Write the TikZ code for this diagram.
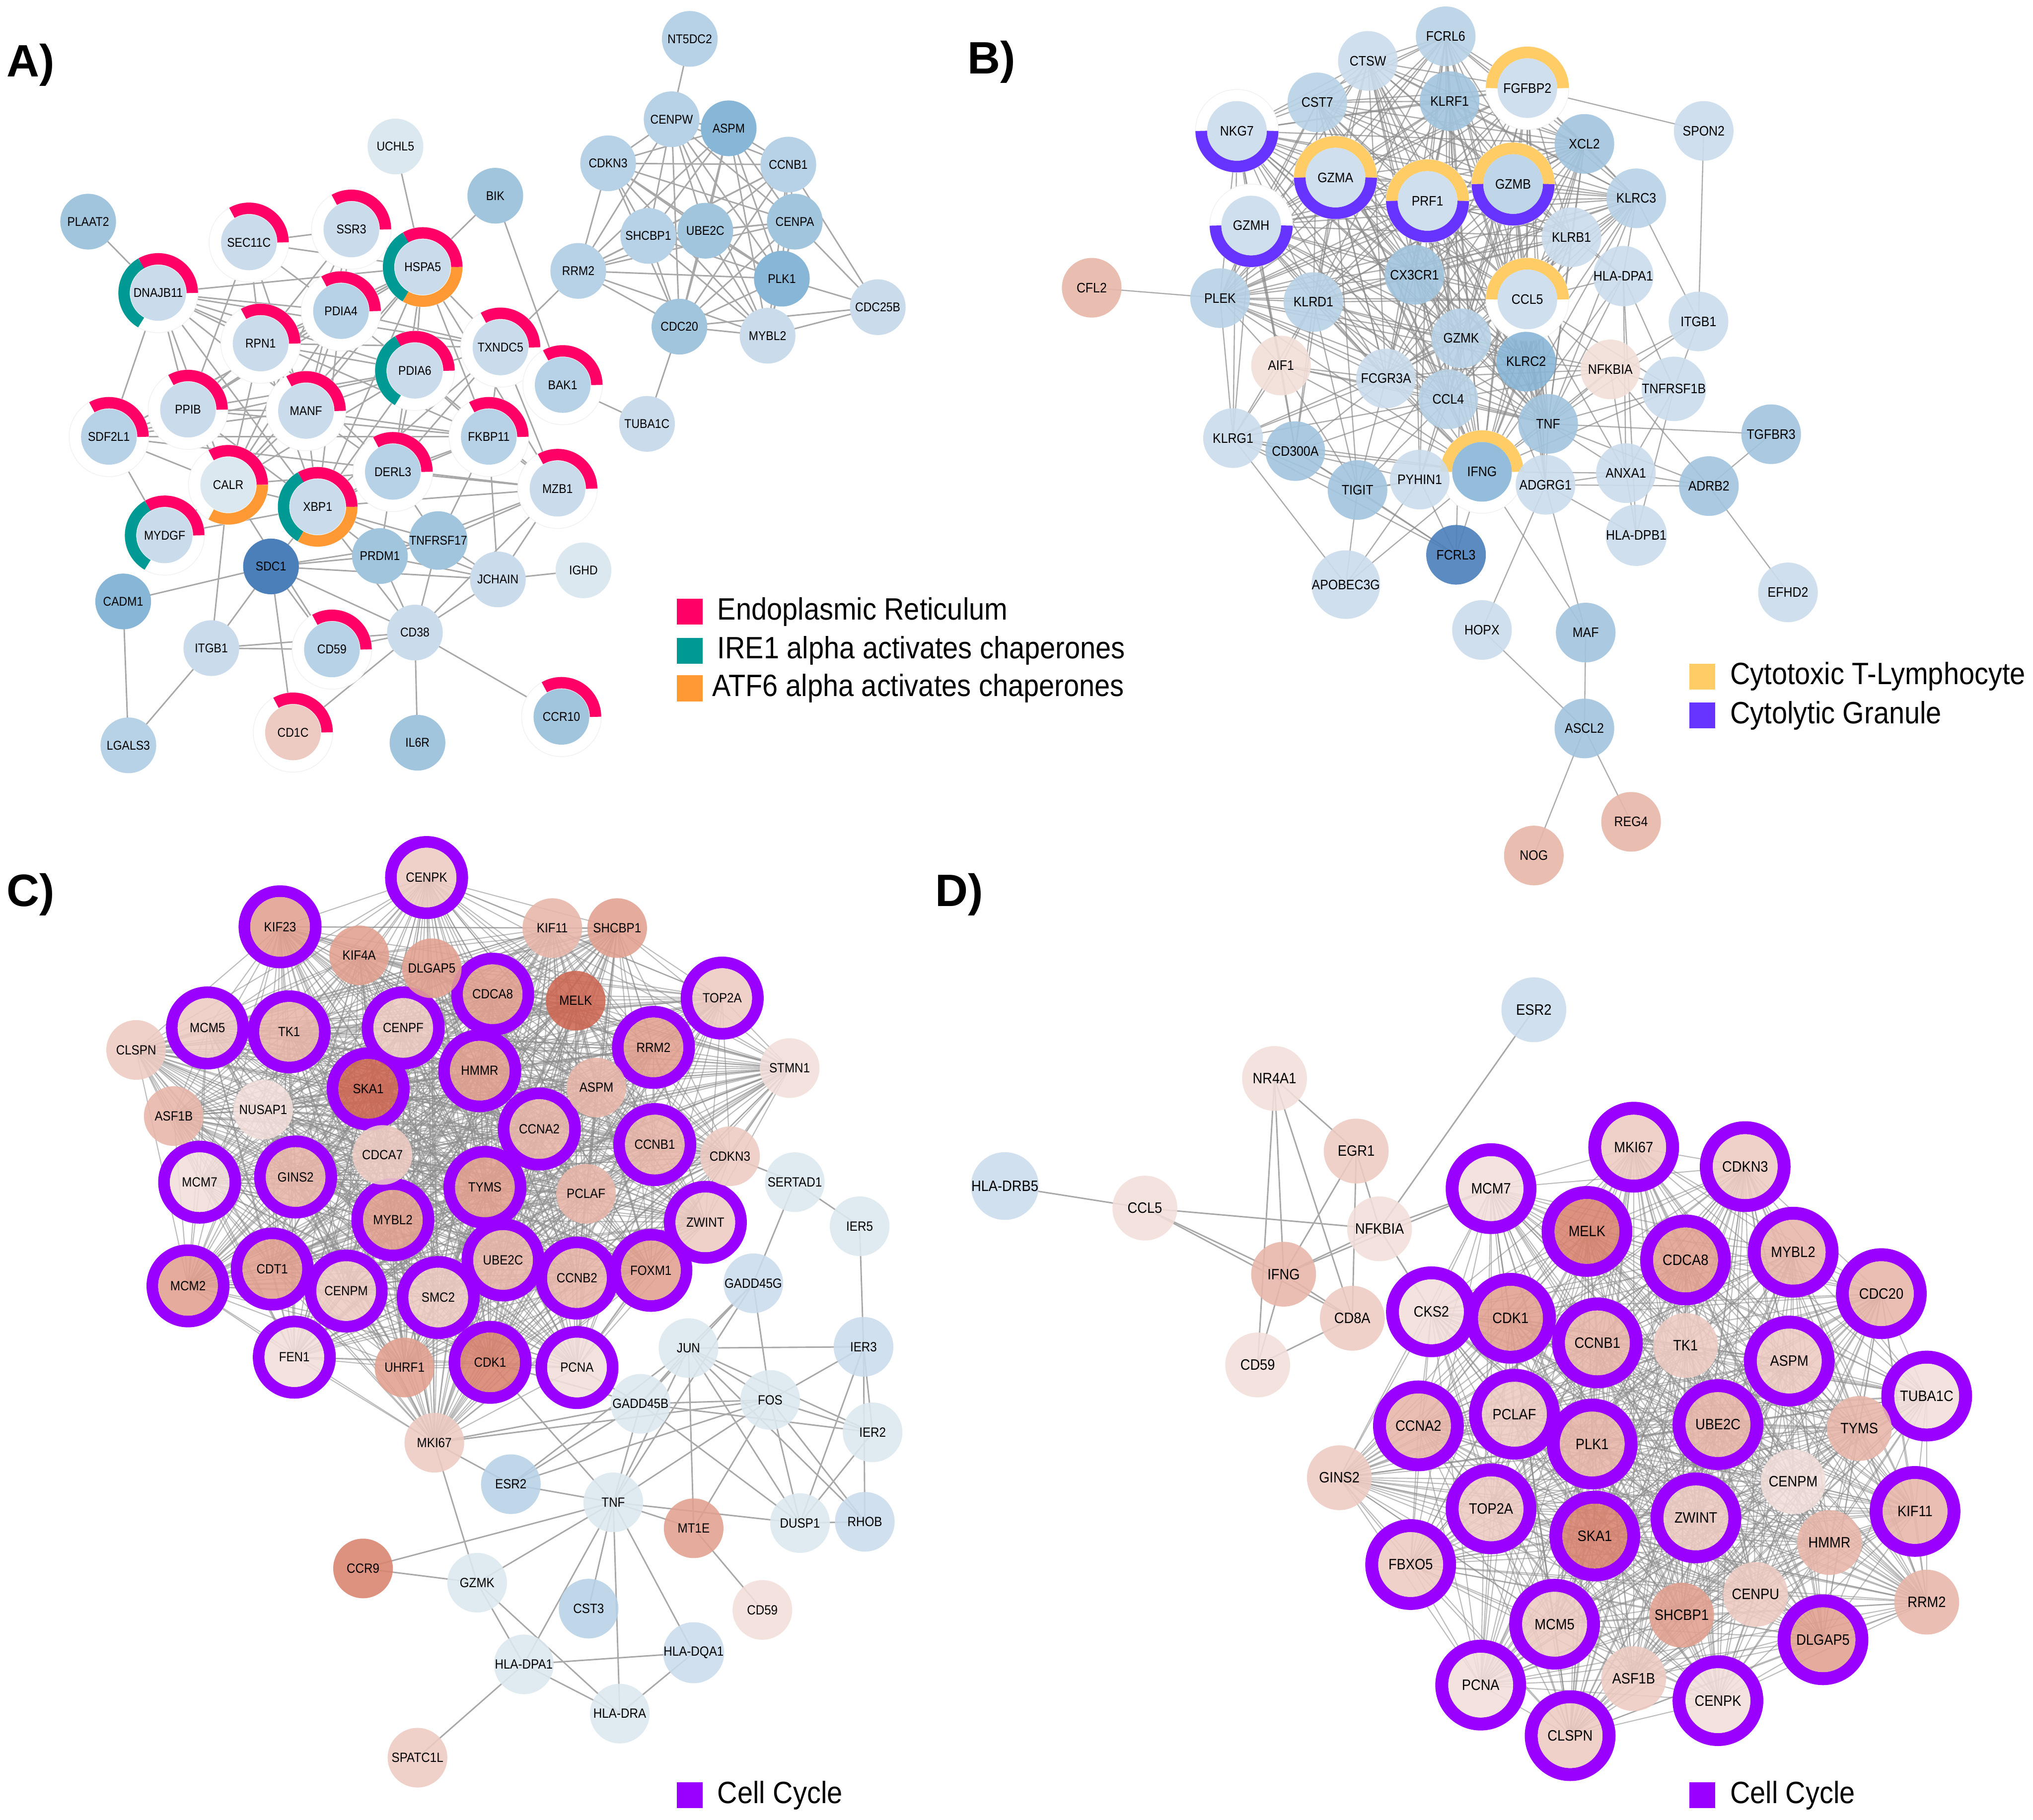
\documentclass[tikz,border=0pt]{standalone}
\usepackage{fontspec}
\setmainfont{Liberation Sans}[FakeStretch=0.9]
\newfontfamily\panelfont{Liberation Sans}
\usepackage{tikz}
\usetikzlibrary{positioning}

\definecolor{b0}{HTML}{DCE8F0}
\definecolor{b1}{HTML}{CADCEC}
\definecolor{b2}{HTML}{B7D2E6}
\definecolor{b3}{HTML}{A2C5DE}
\definecolor{b4}{HTML}{88B6D6}
\definecolor{b5}{HTML}{4A7FBA}
\definecolor{r0}{HTML}{F2DED9}
\definecolor{r1}{HTML}{EDCBC3}
\definecolor{r2}{HTML}{E8B6A9}
\definecolor{r3}{HTML}{E2A190}
\definecolor{r4}{HTML}{D9836F}
\definecolor{r5}{HTML}{CE6753}
\definecolor{erc}{HTML}{FF0066}
\definecolor{irec}{HTML}{009994}
\definecolor{atfc}{HTML}{FF9933}
\definecolor{ctlc}{HTML}{FFCC66}
\definecolor{cgc}{HTML}{6633FF}
\definecolor{ccc}{HTML}{9900FF}

\pgfdeclarelayer{edges}
\pgfdeclarelayer{rings}
\pgfsetlayers{edges,rings,main}

\tikzset{
    gene/.style={circle, inner sep=0pt, text=black, text opacity=1},
    gA/.style={gene, minimum size=43pt, font=\fontsize{9.8}{10}\selectfont},
    gB/.style={gene, minimum size=46pt, fill opacity=0.9, font=\fontsize{10.6}{11}\selectfont},
    gC/.style={gene, minimum size=46pt, fill opacity=0.88, font=\fontsize{10.3}{11}\selectfont},
    gD/.style={gene, minimum size=50pt, fill opacity=0.88, font=\fontsize{11.6}{12}\selectfont},
    link/.style={draw=black!34, line width=1.1pt},
    blink/.style={draw=black!45, line width=0.9pt, draw opacity=0.72},
    mesh/.style={draw=black!45, line width=0.8pt, draw opacity=0.58},
    panel/.style={anchor=west, inner sep=0pt, font=\panelfont\fontsize{35}{37}\selectfont\bfseries},
    legbox/.style={minimum size=20pt, inner sep=0pt},
    legtext/.style={anchor=west, inner sep=0pt, font=\fontsize{23.8}{26}\selectfont}
}

% ring pieces round a gene node
\newcommand{\ringseg}[6]{\draw[#6, line width=#3pt] ([shift={(#4:#2)}]#1.center) arc[start angle=#4, end angle=#5, radius=#2];}
\newcommand{\ringbase}[2]{\fill[white] (#1.center) circle (#2); \draw[black!6, line width=0.5pt] (#1.center) circle (#2);}
\newcommand{\ringER}[1]{\ringseg{#1}{26.3}{8.8}{0}{120}{erc}}
\newcommand{\ringIRE}[1]{\ringseg{#1}{26.3}{8.8}{120}{240}{irec}}
\newcommand{\ringATF}[1]{\ringseg{#1}{26.3}{8.8}{240}{360}{atfc}}
\newcommand{\ringCTL}[1]{\ringseg{#1}{27.5}{9}{0}{180}{ctlc}}
\newcommand{\ringGRAN}[1]{\ringseg{#1}{27.5}{9}{180}{360}{cgc}}
\newcommand{\ringCC}[1]{\draw[ccc, line width=9pt] (#1.center) circle (27.5);}
\newcommand{\ringCD}[1]{\draw[ccc, line width=10pt] (#1.center) circle (30);}
% every pair of a list
\newcommand{\meshall}[2]{\foreach \u [count=\i] in #1 {\foreach \v [count=\j] in #1 {\ifnum\j>\i\relax \draw[#2] (\u.center) -- (\v.center);\fi}}}

\def\acore{aCENPW,aASPM,aCDKN3,aCCNB1,aSHCBP1,aUBE2C,aCENPA,aRRM2,aPLK1,aCDC20,aMYBL2}
\def\bcore{bNKG7,bGZMA,bPRF1,bGZMB,bGZMH,bCST7,bCTSW,bKLRF1,bFGFBP2,bCX3CR1,bKLRD1,bCCL5,bGZMK,bFCGR3A,bCCL4,bKLRC2,bTNF,bIFNG,bKLRB1,bXCL2,bFCRL6,bKLRC3,bPLEK}
\def\ccore{cCENPK,cKIF23,cKIF11,cSHCBP1,cKIF4A,cDLGAP5,cCDCA8,cMELK,cTOP2A,cMCM5,cTK1,cCENPF,cRRM2,cCLSPN,cHMMR,cSTMN1,cSKA1,cASPM,cNUSAP1,cASF1B,cCCNA2,cCCNB1,cCDKN3,cCDCA7,cGINS2,cTYMS,cPCLAF,cMCM7,cMYBL2,cZWINT,cCDT1,cUBE2C,cCCNB2,cFOXM1,cMCM2,cCENPM,cSMC2,cFEN1,cUHRF1,cCDK1,cPCNA,cMKI67}
\def\dcore{dMKI67,dCDKN3,dMCM7,dMELK,dCDCA8,dMYBL2,dCDC20,dCKS2,dCDK1,dCCNB1,dTK1,dASPM,dTUBA1C,dPCLAF,dCCNA2,dUBE2C,dPLK1,dCENPM,dTYMS,dGINS2,dTOP2A,dZWINT,dSKA1,dKIF11,dHMMR,dFBXO5,dCENPU,dMCM5,dSHCBP1,dDLGAP5,dRRM2,dPCNA,dASF1B,dCENPK,dCLSPN}

\begin{document}
\begin{tikzpicture}[x=1pt, y=1pt]
    \useasboundingbox (0,0) rectangle (1568,-1404);

    % A)
    \node[panel] (labA) at (5,-50) {A)};
    \node[gA, fill=b3] (aPLAAT2) at (68,-171) {PLAAT2};
    \node[gA, fill=b0] (aUCHL5) at (305,-113) {UCHL5};
    \node[gA, fill=b3] (aBIK) at (382,-151) {BIK};
    \node[gA, fill=b1] (aSEC11C) at (192,-187) {SEC11C};
    \node[gA, fill=b1] (aSSR3) at (271,-177) {SSR3};
    \node[gA, fill=b1] (aHSPA5) at (326,-206) {HSPA5};
    \node[gA, fill=b1] (aDNAJB11) at (122,-226) {DNAJB11};
    \node[gA, fill=b2] (aPDIA4) at (263,-240) {PDIA4};
    \node[gA, fill=b1] (aRPN1) at (201,-265) {RPN1};
    \node[gA, fill=b1] (aTXNDC5) at (386,-268) {TXNDC5};
    \node[gA, fill=b1] (aPDIA6) at (320,-286) {PDIA6};
    \node[gA, fill=b2] (aBAK1) at (434,-297) {BAK1};
    \node[gA, fill=b1] (aPPIB) at (145,-316) {PPIB};
    \node[gA, fill=b1] (aMANF) at (236,-317) {MANF};
    \node[gA, fill=b2] (aSDF2L1) at (84,-337) {SDF2L1};
    \node[gA, fill=b2] (aFKBP11) at (377,-337) {FKBP11};
    \node[gA, fill=b2] (aDERL3) at (303,-364) {DERL3};
    \node[gA, fill=b1] (aMZB1) at (430,-377) {MZB1};
    \node[gA, fill=b0] (aCALR) at (176,-374) {CALR};
    \node[gA, fill=b1] (aXBP1) at (245,-391) {XBP1};
    \node[gA, fill=b1] (aMYDGF) at (127,-413) {MYDGF};
    \node[gA, fill=b5] (aSDC1) at (209,-437) {SDC1};
    \node[gA, fill=b3] (aPRDM1) at (293,-429) {PRDM1};
    \node[gA, fill=b3] (aTNFRSF17) at (338,-417) {TNFRSF17};
    \node[gA, fill=b1] (aJCHAIN) at (384,-447) {JCHAIN};
    \node[gA, fill=b0] (aIGHD) at (450,-440) {IGHD};
    \node[gA, fill=b4] (aCADM1) at (95,-464) {CADM1};
    \node[gA, fill=b1] (aITGB1) at (163,-500) {ITGB1};
    \node[gA, fill=b2] (aCD59) at (256,-501) {CD59};
    \node[gA, fill=b1] (aCD38) at (320,-488) {CD38};
    \node[gA, fill=b3] (aCCR10) at (433,-553) {CCR10};
    \node[gA, fill=r1] (aCD1C) at (226,-565) {CD1C};
    \node[gA, fill=b2] (aLGALS3) at (99,-575) {LGALS3};
    \node[gA, fill=b3] (aIL6R) at (322,-573) {IL6R};
    \node[gA, fill=b2] (aNT5DC2) at (532,-30) {NT5DC2};
    \node[gA, fill=b2] (aCENPW) at (518,-92) {CENPW};
    \node[gA, fill=b4] (aASPM) at (562,-99) {ASPM};
    \node[gA, fill=b2] (aCDKN3) at (469,-126) {CDKN3};
    \node[gA, fill=b2] (aCCNB1) at (608,-127) {CCNB1};
    \node[gA, fill=b2] (aSHCBP1) at (500,-182) {SHCBP1};
    \node[gA, fill=b3] (aUBE2C) at (544,-178) {UBE2C};
    \node[gA, fill=b3] (aCENPA) at (613,-171) {CENPA};
    \node[gA, fill=b2] (aRRM2) at (446,-209) {RRM2};
    \node[gA, fill=b4] (aPLK1) at (603,-215) {PLK1};
    \node[gA, fill=b3] (aCDC20) at (524,-252) {CDC20};
    \node[gA, fill=b1] (aMYBL2) at (592,-259) {MYBL2};
    \node[gA, fill=b1] (aCDC25B) at (677,-237) {CDC25B};
    \node[gA, fill=b1] (aTUBA1C) at (499,-327) {TUBA1C};
    \node[legbox, fill=erc] (legER) at (532,-472) {};
    \node[legtext, right=11pt of legER] (legERt) {Endoplasmic Reticulum};
    \node[legbox, fill=irec] (legIRE) at (532,-502) {};
    \node[legtext, right=11pt of legIRE] (legIREt) {IRE1 alpha activates chaperones};
    \node[legbox, fill=atfc] (legATF) at (532,-531) {};
    \node[legtext, right=7pt of legATF] (legATFt) {ATF6 alpha activates chaperones};

    % B)
    \node[panel] (labB) at (746,-48) {B)};
    \node[gB, fill=b2] (bFCRL6) at (1115,-28) {FCRL6};
    \node[gB, fill=b1] (bCTSW) at (1055,-47) {CTSW};
    \node[gB, fill=b1] (bFGFBP2) at (1178,-68) {FGFBP2};
    \node[gB, fill=b2] (bCST7) at (1016,-79) {CST7};
    \node[gB, fill=b3] (bKLRF1) at (1118,-78) {KLRF1};
    \node[gB, fill=b1] (bSPON2) at (1314,-101) {SPON2};
    \node[gB, fill=b1] (bNKG7) at (954,-101) {NKG7};
    \node[gB, fill=b3] (bXCL2) at (1222,-111) {XCL2};
    \node[gB, fill=b1] (bGZMA) at (1030,-137) {GZMA};
    \node[gB, fill=b1] (bPRF1) at (1101,-155) {PRF1};
    \node[gB, fill=b2] (bGZMB) at (1167,-142) {GZMB};
    \node[gB, fill=b2] (bKLRC3) at (1262,-153) {KLRC3};
    \node[gB, fill=b1] (bGZMH) at (965,-174) {GZMH};
    \node[gB, fill=b1] (bKLRB1) at (1212,-183) {KLRB1};
    \node[gB, fill=r2] (bCFL2) at (842,-222) {CFL2};
    \node[gB, fill=b3] (bCX3CR1) at (1091,-212) {CX3CR1};
    \node[gB, fill=b2] (bPLEK) at (941,-230) {PLEK};
    \node[gB, fill=b2] (bKLRD1) at (1013,-233) {KLRD1};
    \node[gB, fill=b1] (bCCL5) at (1178,-231) {CCL5};
    \node[gB, fill=b1] (bHLADPA1) at (1252,-213) {HLA-DPA1};
    \node[gB, fill=b1] (bITGB1) at (1310,-248) {ITGB1};
    \node[gB, fill=b2] (bGZMK) at (1127,-261) {GZMK};
    \node[gB, fill=r0] (bAIF1) at (988,-282) {AIF1};
    \node[gB, fill=b1] (bFCGR3A) at (1069,-292) {FCGR3A};
    \node[gB, fill=b4] (bKLRC2) at (1177,-279) {KLRC2};
    \node[gB, fill=r0] (bNFKBIA) at (1242,-285) {NFKBIA};
    \node[gB, fill=b1] (bTNFRSF1B) at (1291,-300) {TNFRSF1B};
    \node[gB, fill=b2] (bCCL4) at (1117,-308) {CCL4};
    \node[gB, fill=b3] (bTGFBR3) at (1366,-335) {TGFBR3};
    \node[gB, fill=b1] (bKLRG1) at (951,-338) {KLRG1};
    \node[gB, fill=b3] (bTNF) at (1194,-327) {TNF};
    \node[gB, fill=b3] (bCD300A) at (999,-348) {CD300A};
    \node[gB, fill=b1] (bPYHIN1) at (1095,-370) {PYHIN1};
    \node[gB, fill=b4] (bIFNG) at (1143,-364) {IFNG};
    \node[gB, fill=b3] (bTIGIT) at (1047,-378) {TIGIT};
    \node[gB, fill=b1] (bADGRG1) at (1192,-374) {ADGRG1};
    \node[gB, fill=b1] (bANXA1) at (1254,-365) {ANXA1};
    \node[gB, fill=b3] (bADRB2) at (1318,-375) {ADRB2};
    \node[gB, fill=b1] (bHLADPB1) at (1262,-413) {HLA-DPB1};
    \node[gB, fill=b1] (bAPOBEC3G) at (1038,-451) {APOBEC3G};
    \node[gB, fill=b5] (bFCRL3) at (1123,-428) {FCRL3};
    \node[gB, fill=b1] (bEFHD2) at (1379,-457) {EFHD2};
    \node[gB, fill=b1] (bHOPX) at (1143,-486) {HOPX};
    \node[gB, fill=b3] (bMAF) at (1223,-488) {MAF};
    \node[gB, fill=b3] (bASCL2) at (1222,-562) {ASCL2};
    \node[gB, fill=r2] (bREG4) at (1258,-634) {REG4};
    \node[gB, fill=r2] (bNOG) at (1183,-660) {NOG};
    \node[legbox, fill=ctlc] (legCTL) at (1313,-522) {};
    \node[legtext, right=11pt of legCTL] (legCTLt) {Cytotoxic T-Lymphocyte};
    \node[legbox, fill=cgc] (legGRAN) at (1313,-552) {};
    \node[legtext, right=11pt of legGRAN] (legGRANt) {Cytolytic Granule};

    % C)
    \node[panel] (labC) at (5,-690) {C)};
    \node[gC, fill=r1] (cCENPK) at (329,-677) {CENPK};
    \node[gC, fill=r3] (cKIF23) at (216,-715) {KIF23};
    \node[gC, fill=r2] (cKIF11) at (426,-716) {KIF11};
    \node[gC, fill=r3] (cSHCBP1) at (476,-716) {SHCBP1};
    \node[gC, fill=r3] (cKIF4A) at (277,-737) {KIF4A};
    \node[gC, fill=r3] (cDLGAP5) at (333,-747) {DLGAP5};
    \node[gC, fill=r3] (cCDCA8) at (380,-767) {CDCA8};
    \node[gC, fill=r5] (cMELK) at (444,-772) {MELK};
    \node[gC, fill=r1] (cTOP2A) at (557,-770) {TOP2A};
    \node[gC, fill=r1] (cMCM5) at (160,-793) {MCM5};
    \node[gC, fill=r2] (cTK1) at (223,-796) {TK1};
    \node[gC, fill=r1] (cCENPF) at (311,-793) {CENPF};
    \node[gC, fill=r3] (cRRM2) at (504,-808) {RRM2};
    \node[gC, fill=r1] (cCLSPN) at (105,-810) {CLSPN};
    \node[gC, fill=r3] (cHMMR) at (370,-826) {HMMR};
    \node[gC, fill=r0] (cSTMN1) at (609,-824) {STMN1};
    \node[gC, fill=r5] (cSKA1) at (284,-840) {SKA1};
    \node[gC, fill=r2] (cASPM) at (460,-839) {ASPM};
    \node[gC, fill=r0] (cNUSAP1) at (203,-856) {NUSAP1};
    \node[gC, fill=r2] (cASF1B) at (134,-861) {ASF1B};
    \node[gC, fill=r2] (cCCNA2) at (416,-871) {CCNA2};
    \node[gC, fill=r2] (cCCNB1) at (505,-883) {CCNB1};
    \node[gC, fill=r1] (cCDKN3) at (563,-892) {CDKN3};
    \node[gC, fill=r1] (cCDCA7) at (295,-891) {CDCA7};
    \node[gC, fill=r2] (cGINS2) at (228,-908) {GINS2};
    \node[gC, fill=r3] (cTYMS) at (374,-916) {TYMS};
    \node[gC, fill=r2] (cPCLAF) at (452,-921) {PCLAF};
    \node[gC, fill=r0] (cMCM7) at (154,-912) {MCM7};
    \node[gC, fill=b0] (cSERTAD1) at (613,-912) {SERTAD1};
    \node[gC, fill=r3] (cMYBL2) at (303,-941) {MYBL2};
    \node[gC, fill=r1] (cZWINT) at (544,-943) {ZWINT};
    \node[gC, fill=b0] (cIER5) at (663,-946) {IER5};
    \node[gC, fill=b1] (cGADD45G) at (581,-990) {GADD45G};
    \node[gC, fill=r3] (cCDT1) at (210,-979) {CDT1};
    \node[gC, fill=r2] (cUBE2C) at (388,-972) {UBE2C};
    \node[gC, fill=r2] (cCCNB2) at (445,-986) {CCNB2};
    \node[gC, fill=r3] (cFOXM1) at (502,-980) {FOXM1};
    \node[gC, fill=r3] (cMCM2) at (145,-992) {MCM2};
    \node[gC, fill=r1] (cCENPM) at (267,-996) {CENPM};
    \node[gC, fill=r1] (cSMC2) at (338,-1001) {SMC2};
    \node[gC, fill=r0] (cFEN1) at (227,-1047) {FEN1};
    \node[gC, fill=r3] (cUHRF1) at (312,-1055) {UHRF1};
    \node[gC, fill=r4] (cCDK1) at (378,-1051) {CDK1};
    \node[gC, fill=r0] (cPCNA) at (445,-1055) {PCNA};
    \node[gC, fill=b0] (cJUN) at (531,-1040) {JUN};
    \node[gC, fill=b1] (cIER3) at (666,-1039) {IER3};
    \node[gC, fill=b0] (cGADD45B) at (494,-1083) {GADD45B};
    \node[gC, fill=b0] (cFOS) at (594,-1080) {FOS};
    \node[gC, fill=b0] (cIER2) at (673,-1105) {IER2};
    \node[gC, fill=r1] (cMKI67) at (335,-1113) {MKI67};
    \node[gC, fill=b2] (cESR2) at (394,-1145) {ESR2};
    \node[gC, fill=b0] (cTNF) at (473,-1159) {TNF};
    \node[gC, fill=b0] (cDUSP1) at (617,-1175) {DUSP1};
    \node[gC, fill=b1] (cRHOB) at (667,-1174) {RHOB};
    \node[gC, fill=r3] (cMT1E) at (535,-1179) {MT1E};
    \node[gC, fill=r4] (cCCR9) at (280,-1210) {CCR9};
    \node[gC, fill=b0] (cGZMK) at (368,-1221) {GZMK};
    \node[gC, fill=b2] (cCST3) at (454,-1241) {CST3};
    \node[gC, fill=r0] (cCD59) at (588,-1242) {CD59};
    \node[gC, fill=b0] (cHLADPA1) at (404,-1284) {HLA-DPA1};
    \node[gC, fill=b1] (cHLADQA1) at (535,-1275) {HLA-DQA1};
    \node[gC, fill=b0] (cHLADRA) at (478,-1322) {HLA-DRA};
    \node[gC, fill=r1] (cSPATC1L) at (322,-1356) {SPATC1L};
    \node[legbox, fill=ccc] (legCC) at (532,-1385) {};
    \node[legtext, right=11pt of legCC] (legCCt) {Cell Cycle};

    % D)
    \node[panel] (labD) at (721,-690) {D)};
    \node[gD, fill=b1] (dESR2) at (1183,-779) {ESR2};
    \node[gD, fill=r0] (dNR4A1) at (983,-832) {NR4A1};
    \node[gD, fill=r1] (dEGR1) at (1046,-888) {EGR1};
    \node[gD, fill=r1] (dMKI67) at (1260,-885) {MKI67};
    \node[gD, fill=r1] (dCDKN3) at (1346,-900) {CDKN3};
    \node[gD, fill=b1] (dHLADRB5) at (775,-915) {HLA-DRB5};
    \node[gD, fill=r0] (dMCM7) at (1150,-917) {MCM7};
    \node[gD, fill=r0] (dCCL5) at (883,-932) {CCL5};
    \node[gD, fill=r0] (dNFKBIA) at (1064,-948) {NFKBIA};
    \node[gD, fill=r4] (dMELK) at (1224,-950) {MELK};
    \node[gD, fill=r3] (dCDCA8) at (1300,-972) {CDCA8};
    \node[gD, fill=r2] (dMYBL2) at (1383,-966) {MYBL2};
    \node[gD, fill=r2] (dIFNG) at (990,-983) {IFNG};
    \node[gD, fill=r2] (dCDC20) at (1451,-998) {CDC20};
    \node[gD, fill=r1] (dCD8A) at (1043,-1017) {CD8A};
    \node[gD, fill=r0] (dCKS2) at (1104,-1012) {CKS2};
    \node[gD, fill=r3] (dCDK1) at (1165,-1017) {CDK1};
    \node[gD, fill=r2] (dCCNB1) at (1232,-1036) {CCNB1};
    \node[gD, fill=r1] (dTK1) at (1300,-1038) {TK1};
    \node[gD, fill=r1] (dASPM) at (1380,-1050) {ASPM};
    \node[gD, fill=r0] (dTUBA1C) at (1486,-1077) {TUBA1C};
    \node[gD, fill=r0] (dCD59) at (970,-1053) {CD59};
    \node[gD, fill=r1] (dPCLAF) at (1168,-1091) {PCLAF};
    \node[gD, fill=r2] (dCCNA2) at (1094,-1100) {CCNA2};
    \node[gD, fill=r2] (dUBE2C) at (1325,-1099) {UBE2C};
    \node[gD, fill=r2] (dPLK1) at (1228,-1114) {PLK1};
    \node[gD, fill=r0] (dCENPM) at (1383,-1143) {CENPM};
    \node[gD, fill=r2] (dTYMS) at (1434,-1102) {TYMS};
    \node[gD, fill=r1] (dGINS2) at (1033,-1140) {GINS2};
    \node[gD, fill=r1] (dTOP2A) at (1150,-1164) {TOP2A};
    \node[gD, fill=r1] (dZWINT) at (1308,-1171) {ZWINT};
    \node[gD, fill=r4] (dSKA1) at (1230,-1185) {SKA1};
    \node[gD, fill=r2] (dKIF11) at (1477,-1166) {KIF11};
    \node[gD, fill=r2] (dHMMR) at (1411,-1190) {HMMR};
    \node[gD, fill=r1] (dFBXO5) at (1088,-1207) {FBXO5};
    \node[gD, fill=r1] (dCENPU) at (1354,-1230) {CENPU};
    \node[gD, fill=r1] (dMCM5) at (1199,-1253) {MCM5};
    \node[gD, fill=r3] (dSHCBP1) at (1297,-1246) {SHCBP1};
    \node[gD, fill=r3] (dDLGAP5) at (1406,-1265) {DLGAP5};
    \node[gD, fill=r2] (dRRM2) at (1486,-1236) {RRM2};
    \node[gD, fill=r0] (dPCNA) at (1142,-1300) {PCNA};
    \node[gD, fill=r1] (dASF1B) at (1260,-1295) {ASF1B};
    \node[gD, fill=r0] (dCENPK) at (1325,-1312) {CENPK};
    \node[gD, fill=r1] (dCLSPN) at (1211,-1339) {CLSPN};
    \node[legbox, fill=ccc] (legCD) at (1313,-1385) {};
    \node[legtext, right=11pt of legCD] (legCDt) {Cell Cycle};

    \begin{pgfonlayer}{rings}
        \foreach \g in {aSEC11C,aSSR3,aHSPA5,aDNAJB11,aPDIA4,aRPN1,aTXNDC5,aPDIA6,aBAK1,aPPIB,aMANF,aSDF2L1,aFKBP11,aDERL3,aMZB1,aCALR,aXBP1,aMYDGF,aCD59,aCCR10,aCD1C}
            {\ringbase{\g}{30.7} \ringER{\g}}
        \foreach \g in {aHSPA5,aDNAJB11,aPDIA6,aXBP1,aMYDGF}
            {\ringIRE{\g}}
        \foreach \g in {aHSPA5,aCALR,aXBP1}
            {\ringATF{\g}}
        \foreach \g in {bNKG7,bGZMA,bPRF1,bGZMB,bGZMH,bFGFBP2,bCCL5,bIFNG}
            {\ringbase{\g}{32}}
        \foreach \g in {bGZMA,bPRF1,bGZMB,bFGFBP2,bCCL5,bIFNG}
            {\ringCTL{\g}}
        \foreach \g in {bNKG7,bGZMA,bPRF1,bGZMB,bGZMH}
            {\ringGRAN{\g}}
        \foreach \g in {cCENPK,cKIF23,cCDCA8,cTOP2A,cMCM5,cTK1,cCENPF,cRRM2,cHMMR,cSKA1,cCCNA2,cCCNB1,cGINS2,cTYMS,cMCM7,cMYBL2,cZWINT,cCDT1,cUBE2C,cCCNB2,cFOXM1,cMCM2,cCENPM,cSMC2,cFEN1,cCDK1,cPCNA}
            {\ringCC{\g}}
        \foreach \g in {dMKI67,dCDKN3,dMCM7,dMELK,dCDCA8,dMYBL2,dCDC20,dCKS2,dCDK1,dCCNB1,dASPM,dTUBA1C,dPCLAF,dCCNA2,dUBE2C,dPLK1,dTOP2A,dZWINT,dSKA1,dKIF11,dFBXO5,dMCM5,dDLGAP5,dPCNA,dCENPK,dCLSPN}
            {\ringCD{\g}}
    \end{pgfonlayer}

    \begin{pgfonlayer}{edges}
        \fill[white] (0,0) rectangle (1568,-1404);
        \meshall{\acore}{link}
        \foreach \u/\v in {aHSPA5/aDNAJB11, aHSPA5/aSSR3, aHSPA5/aPDIA4, aHSPA5/aRPN1, aHSPA5/aPDIA6, aHSPA5/aTXNDC5, aHSPA5/aPPIB, aHSPA5/aMANF, aHSPA5/aSDF2L1, aHSPA5/aFKBP11, aHSPA5/aDERL3, aHSPA5/aCALR, aHSPA5/aXBP1, aHSPA5/aMZB1, aHSPA5/aUCHL5, aHSPA5/aBIK, aHSPA5/aSEC11C,
            aDNAJB11/aPLAAT2, aDNAJB11/aPDIA4, aDNAJB11/aRPN1, aDNAJB11/aPDIA6, aDNAJB11/aTXNDC5, aDNAJB11/aMANF, aDNAJB11/aSDF2L1, aDNAJB11/aCALR, aDNAJB11/aXBP1, aDNAJB11/aPPIB, aDNAJB11/aFKBP11,
            aSEC11C/aSSR3, aSEC11C/aRPN1, aSEC11C/aPDIA4, aSEC11C/aMANF, aSEC11C/aPPIB,
            aSSR3/aRPN1, aSSR3/aPDIA4, aSSR3/aMANF, aSSR3/aCALR,
            aPDIA4/aPDIA6, aPDIA4/aRPN1, aPDIA4/aCALR, aPDIA4/aMANF, aPDIA4/aTXNDC5, aPDIA4/aPPIB, aPDIA4/aSDF2L1, aPDIA4/aXBP1,
            aRPN1/aPDIA6, aRPN1/aMANF, aRPN1/aCALR, aRPN1/aPPIB, aRPN1/aDERL3, aRPN1/aTXNDC5, aRPN1/aXBP1,
            aPDIA6/aTXNDC5, aPDIA6/aMANF, aPDIA6/aPPIB, aPDIA6/aSDF2L1, aPDIA6/aFKBP11, aPDIA6/aCALR, aPDIA6/aXBP1, aPDIA6/aMZB1, aPDIA6/aDERL3,
            aTXNDC5/aFKBP11, aTXNDC5/aMZB1, aTXNDC5/aDERL3, aTXNDC5/aXBP1, aTXNDC5/aRRM2,
            aPPIB/aMANF, aPPIB/aSDF2L1, aPPIB/aCALR, aPPIB/aFKBP11, aPPIB/aXBP1,
            aMANF/aCALR, aMANF/aXBP1, aMANF/aFKBP11, aMANF/aDERL3, aMANF/aSDF2L1,
            aSDF2L1/aCALR, aSDF2L1/aMYDGF, aSDF2L1/aFKBP11, aSDF2L1/aMZB1,
            aFKBP11/aDERL3, aFKBP11/aMZB1, aFKBP11/aXBP1, aFKBP11/aJCHAIN, aFKBP11/aTNFRSF17,
            aDERL3/aXBP1, aDERL3/aMZB1, aDERL3/aCALR, aDERL3/aTNFRSF17, aDERL3/aPRDM1,
            aCALR/aXBP1, aCALR/aITGB1, aCALR/aCD59, aCALR/aMYDGF,
            aXBP1/aMZB1, aXBP1/aPRDM1, aXBP1/aJCHAIN, aXBP1/aSDC1, aXBP1/aCD38, aXBP1/aMYDGF, aXBP1/aTNFRSF17,
            aMZB1/aJCHAIN, aMZB1/aCD38, aMZB1/aTNFRSF17, aMZB1/aPRDM1,
            aBIK/aBAK1, aBAK1/aTUBA1C,
            aPRDM1/aSDC1, aPRDM1/aCD38, aPRDM1/aJCHAIN, aPRDM1/aTNFRSF17,
            aTNFRSF17/aSDC1, aTNFRSF17/aJCHAIN, aTNFRSF17/aCD38,
            aJCHAIN/aIGHD, aJCHAIN/aCD38, aJCHAIN/aSDC1,
            aSDC1/aCADM1, aSDC1/aITGB1, aSDC1/aCD59, aSDC1/aCD38, aSDC1/aCD1C,
            aCD38/aCD59, aCD38/aITGB1, aCD38/aIL6R, aCD38/aCCR10, aCD38/aCD1C,
            aITGB1/aLGALS3, aITGB1/aCD59, aCADM1/aLGALS3,
            aNT5DC2/aCENPW, aCDC25B/aCCNB1, aCDC25B/aCENPA, aCDC25B/aPLK1, aCDC25B/aMYBL2, aCDC25B/aCDC20, aTUBA1C/aCDC20}
            \draw[link] (\u.center) -- (\v.center);

        \meshall{\bcore}{blink}
        \foreach \u/\v in {bAIF1/bPLEK, bAIF1/bKLRD1, bAIF1/bFCGR3A, bAIF1/bCCL4, bAIF1/bTNF, bAIF1/bIFNG, bAIF1/bKLRG1, bAIF1/bCD300A, bAIF1/bNKG7, bAIF1/bGZMH, bAIF1/bTIGIT,
            bKLRG1/bPLEK, bKLRG1/bNKG7, bKLRG1/bGZMH, bKLRG1/bKLRD1, bKLRG1/bCD300A, bKLRG1/bTIGIT, bKLRG1/bPYHIN1, bKLRG1/bIFNG, bKLRG1/bFCGR3A, bKLRG1/bCCL4, bKLRG1/bGZMK, bKLRG1/bAPOBEC3G,
            bCD300A/bGZMA, bCD300A/bNKG7, bCD300A/bKLRD1, bCD300A/bFCGR3A, bCD300A/bTIGIT, bCD300A/bIFNG, bCD300A/bCCL4, bCD300A/bFCRL3,
            bTIGIT/bGZMA, bTIGIT/bKLRD1, bTIGIT/bPYHIN1, bTIGIT/bIFNG, bTIGIT/bFCRL3, bTIGIT/bCCL4, bTIGIT/bFCGR3A, bTIGIT/bAPOBEC3G, bTIGIT/bGZMK,
            bPYHIN1/bIFNG, bPYHIN1/bGZMK, bPYHIN1/bCCL4, bPYHIN1/bFCRL3, bPYHIN1/bPRF1, bPYHIN1/bCX3CR1,
            bADGRG1/bCCL5, bADGRG1/bGZMB, bADGRG1/bPRF1, bADGRG1/bTNF, bADGRG1/bIFNG, bADGRG1/bHLADPB1, bADGRG1/bHOPX, bADGRG1/bMAF, bADGRG1/bANXA1, bADGRG1/bKLRC2, bADGRG1/bFGFBP2, bADGRG1/bADRB2,
            bANXA1/bTNF, bANXA1/bNFKBIA, bANXA1/bHLADPA1, bANXA1/bADRB2, bANXA1/bIFNG, bANXA1/bTNFRSF1B, bANXA1/bHLADPB1, bANXA1/bCCL5,
            bNFKBIA/bTNF, bNFKBIA/bIFNG, bNFKBIA/bCCL4, bNFKBIA/bCCL5, bNFKBIA/bTNFRSF1B, bNFKBIA/bITGB1, bNFKBIA/bKLRC2, bNFKBIA/bGZMK, bNFKBIA/bADRB2, bNFKBIA/bFCGR3A,
            bTNFRSF1B/bTNF, bTNFRSF1B/bITGB1, bTNFRSF1B/bCCL5, bTNFRSF1B/bIFNG, bTNFRSF1B/bHLADPA1, bTNFRSF1B/bHLADPB1,
            bHLADPA1/bHLADPB1, bHLADPA1/bCCL5, bHLADPA1/bTNF, bHLADPA1/bIFNG, bHLADPA1/bKLRB1, bHLADPA1/bGZMB, bHLADPA1/bKLRC3,
            bITGB1/bSPON2, bITGB1/bTNF, bITGB1/bKLRC3, bSPON2/bFGFBP2, bTGFBR3/bADRB2, bTGFBR3/bTNF, bADRB2/bEFHD2, bADRB2/bTNF,
            bFCRL3/bIFNG, bFCRL3/bGZMK, bFCRL3/bKLRG1, bAPOBEC3G/bIFNG, bAPOBEC3G/bPYHIN1, bHOPX/bASCL2, bMAF/bIFNG, bMAF/bASCL2,
            bASCL2/bREG4, bASCL2/bNOG, bCFL2/bPLEK}
            \draw[blink] (\u.center) -- (\v.center);

        \meshall{\ccore}{mesh}
        \foreach \u/\v in {cCDKN3/cSERTAD1, cSERTAD1/cIER5, cIER5/cIER3, cGADD45G/cJUN, cGADD45G/cFOS, cGADD45G/cGADD45B, cGADD45G/cTNF, cGADD45G/cSERTAD1,
            cJUN/cFOS, cJUN/cIER3, cJUN/cGADD45B, cJUN/cTNF, cJUN/cESR2, cJUN/cDUSP1, cJUN/cIER2, cJUN/cRHOB, cJUN/cMT1E,
            cFOS/cIER3, cFOS/cIER2, cFOS/cDUSP1, cFOS/cGADD45B, cFOS/cTNF, cFOS/cESR2, cFOS/cMT1E, cFOS/cRHOB, cFOS/cMKI67,
            cIER3/cDUSP1, cIER3/cRHOB, cIER3/cIER2, cIER2/cDUSP1, cIER2/cGADD45B, cDUSP1/cRHOB, cDUSP1/cTNF, cDUSP1/cGADD45B,
            cTNF/cESR2, cTNF/cMT1E, cTNF/cCCR9, cTNF/cGZMK, cTNF/cCST3, cTNF/cHLADRA, cTNF/cHLADQA1, cTNF/cHLADPA1, cTNF/cGADD45B, cTNF/cCDK1,
            cESR2/cMKI67, cESR2/cGADD45B, cMKI67/cGZMK, cMKI67/cGADD45B, cGZMK/cCCR9, cGZMK/cHLADPA1, cGZMK/cHLADRA,
            cHLADPA1/cHLADQA1, cHLADPA1/cHLADRA, cHLADQA1/cHLADRA, cHLADPA1/cSPATC1L, cMT1E/cCD59, cGADD45B/cPCNA, cGADD45B/cCDK1}
            \draw[link] (\u.center) -- (\v.center);

        \meshall{\dcore}{mesh}
        \foreach \u/\v in {dESR2/dNFKBIA, dNR4A1/dEGR1, dNR4A1/dIFNG, dNR4A1/dCD8A, dNR4A1/dCD59, dEGR1/dNFKBIA, dEGR1/dIFNG, dEGR1/dCD8A,
            dHLADRB5/dCCL5, dCCL5/dIFNG, dCCL5/dNFKBIA, dCCL5/dCD8A, dIFNG/dCD8A, dIFNG/dCD59, dIFNG/dNFKBIA, dIFNG/dMCM7,
            dNFKBIA/dMCM7, dNFKBIA/dCKS2, dCD8A/dCD59}
            \draw[link] (\u.center) -- (\v.center);
    \end{pgfonlayer}
\end{tikzpicture}
\end{document}
